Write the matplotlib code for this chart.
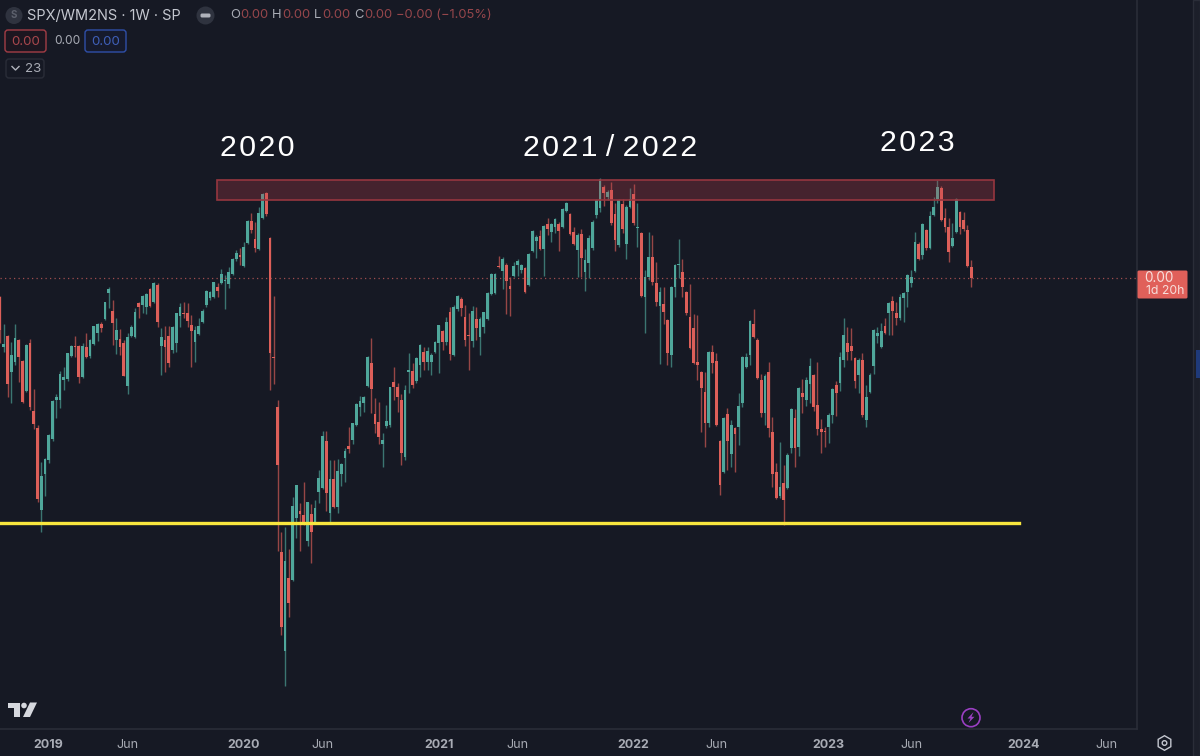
import matplotlib
matplotlib.use('Agg')
import matplotlib.pyplot as plt
from matplotlib.patches import Circle, FancyBboxPatch, Polygon, Rectangle, RegularPolygon
import numpy as np
import pandas as pd

plt.rcParams['font.family'] = ['Inter', 'DejaVu Sans']

BG = '#161924'
LINE = '#2a2d38'
UP = '#4fa79b'
DOWN = '#dd5f59'
TXT = '#c4c7cf'
DIM_RED = '#95464b'

first_week = '2018-10-08'

# weekly candles, price scale is hidden on the chart so levels are relative
opens = [432, 382, 393, 357, 367, 389, 368, 338, 386, 318,
         301, 219, 255, 269, 290, 329, 329, 349, 350, 373,
         383, 383, 352, 382, 373, 385, 396, 405, 410, 436,
         418, 389, 390, 386, 343, 393, 392, 426, 424, 422,
         440, 427, 444, 383, 389, 393, 379, 386, 413, 416,
         416, 404, 387, 395, 407, 424, 431, 432, 442, 446,
         448, 445, 455, 470, 474, 463, 486, 508, 490, 480,
         511, 536, 491, 372, 322, 177, 78, 151, 149, 211,
         218, 214, 188, 215, 207, 237, 241, 288, 216, 250,
         222, 255, 271, 283, 289, 304, 322, 326, 343, 366,
         315, 307, 285, 303, 304, 347, 342, 329, 272, 357,
         358, 348, 364, 377, 367, 367, 377, 386, 398, 387,
         417, 374, 420, 430, 412, 394, 388, 410, 392, 402,
         410, 435, 436, 463, 458, 464, 443, 453, 464, 459,
         461, 444, 478, 488, 493, 480, 505, 497, 502, 505,
         502, 518, 515, 497, 479, 495, 457, 466, 481, 514,
         521, 542, 532, 539, 515, 484, 525, 485, 522, 535,
         501, 496, 432, 452, 472, 446, 423, 425, 409, 374,
         442, 464, 457, 437, 412, 401, 367, 357, 337, 306,
         377, 368, 288, 257, 315, 275, 301, 302, 326, 362,
         374, 405, 389, 349, 316, 357, 297, 257, 233, 246,
         241, 281, 311, 282, 336, 329, 345, 354, 324, 300,
         298, 302, 314, 344, 346, 369, 386, 383, 371, 354,
         369, 309, 337, 363, 393, 382, 403, 416, 428, 416,
         411, 431, 437, 446, 458, 485, 474, 499, 481, 514,
         530, 541, 511, 502, 483, 497, 517, 509, 499, 462]
highs = [433, 405, 394, 387, 405, 390, 369, 385, 390, 340,
         304, 267, 271, 295, 329, 335, 358, 362, 376, 384,
         393, 384, 386, 396, 390, 403, 406, 407, 427, 442,
         429, 411, 400, 389, 396, 404, 421, 427, 434, 436,
         441, 447, 446, 401, 403, 403, 403, 416, 426, 427,
         426, 414, 403, 411, 420, 439, 438, 447, 446, 460,
         454, 462, 471, 479, 481, 487, 509, 516, 507, 522,
         536, 537, 492, 433, 329, 197, 202, 180, 232, 244,
         226, 247, 227, 225, 229, 259, 298, 298, 269, 269,
         270, 266, 281, 302, 306, 326, 333, 333, 373, 391,
         331, 327, 296, 324, 342, 362, 346, 335, 344, 376,
         366, 372, 385, 382, 382, 376, 388, 404, 399, 412,
         422, 424, 434, 432, 424, 416, 423, 422, 412, 417,
         437, 456, 456, 473, 472, 466, 452, 467, 470, 465,
         462, 476, 499, 494, 499, 504, 511, 506, 511, 507,
         521, 527, 516, 502, 496, 500, 480, 494, 509, 530,
         551, 544, 539, 547, 526, 530, 530, 524, 541, 545,
         526, 497, 459, 497, 494, 467, 442, 442, 410, 443,
         465, 490, 470, 438, 445, 415, 414, 358, 357, 378,
         384, 376, 289, 312, 321, 309, 302, 336, 373, 376,
         409, 420, 391, 355, 355, 367, 312, 266, 287, 264,
         276, 321, 320, 342, 350, 352, 371, 355, 367, 310,
         302, 316, 341, 348, 377, 411, 402, 401, 372, 371,
         376, 344, 356, 400, 402, 406, 411, 427, 433, 427,
         435, 437, 455, 459, 497, 487, 506, 500, 518, 532,
         549, 543, 521, 511, 506, 531, 518, 517, 504, 469]
lows = [386, 377, 332, 326, 364, 347, 326, 337, 319, 300,
        227, 197, 233, 266, 288, 311, 321, 339, 348, 372,
        372, 346, 351, 371, 371, 384, 388, 397, 409, 421,
        384, 375, 374, 353, 335, 392, 391, 411, 416, 415,
        422, 426, 402, 354, 357, 362, 376, 377, 402, 411,
        402, 362, 367, 394, 406, 422, 429, 431, 432, 445,
        420, 441, 454, 468, 464, 462, 485, 496, 477, 479,
        510, 513, 339, 345, 178, 94, 43, 112, 148, 191,
        178, 204, 183, 166, 206, 226, 240, 218, 207, 221,
        216, 243, 247, 276, 285, 303, 313, 317, 342, 316,
        296, 285, 262, 301, 302, 329, 317, 264, 269, 336,
        341, 346, 352, 359, 359, 354, 376, 356, 379, 384,
        369, 373, 418, 413, 383, 359, 382, 389, 374, 396,
        409, 434, 435, 461, 440, 415, 413, 452, 453, 456,
        436, 443, 477, 471, 479, 453, 494, 487, 496, 478,
        501, 517, 494, 484, 452, 452, 438, 451, 479, 511,
        517, 523, 529, 504, 478, 482, 496, 470, 521, 504,
        482, 432, 396, 449, 444, 423, 365, 405, 364, 362,
        432, 451, 432, 414, 380, 365, 349, 297, 282, 302,
        356, 303, 234, 256, 259, 262, 257, 284, 322, 361,
        364, 391, 350, 312, 304, 292, 242, 230, 231, 204,
        240, 276, 262, 273, 316, 323, 326, 318, 294, 276,
        282, 286, 306, 313, 338, 362, 369, 369, 341, 336,
        312, 302, 336, 355, 386, 381, 395, 394, 394, 404,
        409, 407, 422, 442, 457, 469, 470, 479, 480, 513,
        526, 508, 497, 467, 482, 496, 495, 498, 462, 442]
closes = [399, 385, 345, 374, 391, 372, 327, 384, 322, 305,
          230, 253, 270, 294, 328, 332, 355, 352, 376, 383,
          382, 352, 383, 372, 389, 403, 405, 401, 427, 440,
          406, 399, 382, 353, 392, 402, 417, 422, 433, 435,
          423, 446, 407, 392, 382, 366, 402, 416, 422, 415,
          408, 398, 399, 403, 418, 438, 437, 447, 438, 455,
          449, 457, 470, 476, 472, 482, 508, 499, 481, 516,
          535, 515, 376, 371, 264, 102, 168, 126, 223, 244,
          215, 205, 227, 197, 221, 251, 293, 236, 250, 222,
          258, 265, 278, 280, 306, 325, 328, 332, 372, 340,
          305, 292, 289, 308, 342, 342, 332, 276, 339, 359,
          344, 371, 384, 367, 378, 374, 387, 404, 387, 407,
          375, 422, 433, 421, 389, 393, 418, 401, 410, 417,
          436, 455, 455, 462, 470, 448, 440, 463, 468, 464,
          437, 475, 498, 492, 480, 503, 500, 505, 510, 498,
          520, 526, 495, 485, 494, 471, 469, 491, 507, 529,
          550, 536, 537, 506, 489, 529, 500, 522, 530, 506,
          502, 433, 452, 472, 447, 427, 437, 417, 376, 442,
          464, 465, 442, 416, 381, 366, 364, 341, 306, 377,
          366, 304, 244, 311, 288, 304, 295, 323, 372, 372,
          408, 392, 351, 316, 353, 301, 255, 231, 242, 229,
          274, 320, 281, 341, 332, 349, 363, 322, 300, 297,
          297, 314, 340, 336, 372, 394, 377, 378, 348, 369,
          314, 332, 354, 399, 396, 398, 396, 426, 418, 411,
          432, 436, 454, 452, 487, 470, 505, 481, 513, 522,
          542, 509, 502, 477, 491, 530, 502, 500, 463, 451]

tick_dates = ['2019-01-07', '2019-06-03', '2020-01-06', '2020-06-01',
              '2021-01-04', '2021-05-31', '2022-01-03', '2022-06-06',
              '2023-01-02', '2023-06-05', '2024-01-01', '2024-06-03']
tick_labels = ['2019', 'Jun', '2020', 'Jun', '2021', 'Jun',
               '2022', 'Jun', '2023', 'Jun', '2024', 'Jun']

zone_dates = ['2019-11-17', '2023-11-06']
zone_levels = [529.5, 549]
support_level = 206
support_end = '2023-12-23'

notes = ['2020', '2021 / 2022', '2023']
note_dates = ['2020-02-01', '2021-11-20', '2023-06-17']
note_levels = [581, 581, 586]

dates = pd.date_range(first_week, periods=len(opens), freq='7D')
opens, highs, lows, closes = map(np.array, (opens, highs, lows, closes))
up = closes >= opens
colors = np.where(up, UP, DOWN)

fig = plt.figure(figsize=(12, 7.56), dpi=100, facecolor=BG)
ax = fig.add_axes([0, 27 / 756, 1137 / 1200, 729 / 756], facecolor=BG)

# 3.75 px per weekly bar
px_day = 3.75 / 7
ax.set_xlim(dates[0], dates[0] + pd.Timedelta(days=1137 / px_day))
ax.set_ylim(0, 729)

ax.vlines(dates, lows, highs, colors=colors, lw=1.0, alpha=0.65, zorder=2)
ax.bar(dates, np.maximum(np.abs(closes - opens), 1), bottom=np.minimum(opens, closes),
       width=3.0 / px_day, color=colors, lw=0, zorder=3)

ax.axhline(closes[-1], color='#d0605e', lw=0.9, ls=(0, (1, 2.6)), alpha=0.75, zorder=4)

# resistance box and support line
x0, x1 = pd.Timestamp(zone_dates[0]), pd.Timestamp(zone_dates[1])
ax.add_patch(Rectangle((x0, zone_levels[0]), x1 - x0, zone_levels[1] - zone_levels[0],
                       facecolor='#c2404a', alpha=0.28, lw=0, zorder=5))
ax.add_patch(Rectangle((x0, zone_levels[0]), x1 - x0, zone_levels[1] - zone_levels[0],
                       fill=False, edgecolor='#96363f', lw=1.2, zorder=5))
ax.plot([dates[0] - pd.Timedelta(days=10), pd.Timestamp(support_end)],
        [support_level, support_level], color='#f8e63e', lw=2.4, zorder=6, clip_on=True)

# the notes on the picture are letter spaced
for txt, d, lvl in zip(notes, note_dates, note_levels):
    ax.text(pd.Timestamp(d), lvl, '\u200a'.join(txt).replace('\u200a \u200a', ' '), color='white',
            fontsize=21.8, ha='center', va='center', family=['Liberation Sans', 'DejaVu Sans'], zorder=7)

ax.set_xticks(pd.to_datetime(tick_dates))
ax.set_xticklabels(tick_labels)
ax.set_yticks([])
ax.tick_params(axis='x', length=0, pad=7, labelsize=9, labelcolor='#a9acb5')
for lab in ax.get_xticklabels():
    if lab.get_text() != 'Jun':
        lab.set_fontweight('bold')
for side in ('top', 'left'):
    ax.spines[side].set_visible(False)
for side in ('bottom', 'right'):
    ax.spines[side].set_color(LINE)
    ax.spines[side].set_linewidth(1.2)

# toolbar and legend chrome, in screen pixels
ui = fig.add_axes([0, 0, 1, 1])
ui.set_xlim(0, 1200)
ui.set_ylim(756, 0)
ui.axis('off')

ui.add_patch(Rectangle((1193, 0), 7, 756, facecolor='#1c1f2a', edgecolor=LINE, lw=1))
ui.add_patch(Rectangle((1196, 350), 4, 28, facecolor='#1f3a7a', lw=0))


def label(x, y, s, color=TXT, size=9.6, **kw):
    ui.text(x, y, s, color=color, fontsize=size, va='center', **kw)


def box(x, y, w, h, edge, face='none'):
    ui.add_patch(FancyBboxPatch((x + 2, y + 2), w - 4, h - 4, boxstyle='round,pad=2,rounding_size=3',
                                facecolor=face, edgecolor=edge, lw=1))


ui.add_patch(Circle((14, 15.5), 8.5, color='#2f333f', lw=0))
label(14, 15.5, 'S', color='#5d616d', size=7, ha='center', fontweight='bold')
label(27, 15.5, 'SPX/WM2NS · 1W · SP', size=10.45)
ui.add_patch(Circle((205.5, 15.5), 9, color='#2f333f', lw=0))
ui.add_patch(FancyBboxPatch((201, 14), 9, 3, boxstyle='round,pad=0.5,rounding_size=1.5',
                            facecolor='#b0b3bb', lw=0))

for x, s, col in [(230, 'O', '#a9acb5'), (240, '0.00', DIM_RED), (272, 'H', '#a9acb5'),
                  (282.5, '0.00', DIM_RED), (314, 'L', '#a9acb5'), (322, '0.00', DIM_RED),
                  (354, 'C', '#a9acb5'), (364, '0.00', DIM_RED),
                  (396, '\u22120.00 (\u22121.05%)', DIM_RED)]:
    label(x, 15.5, s, color=col, size=9.3)

box(5, 30, 41, 22, '#a33d46', '#1c1620')
label(25.5, 42, '0.00', color='#a8474d', ha='center')
label(54, 41.5, '0.00', color='#a9acb5', size=8.6)
box(85, 30, 41, 22, '#2f4fa8', '#161a2c')
label(105.5, 42, '0.00', color='#3f5fb8', ha='center')
box(6, 59, 38, 19, LINE)
ui.plot([12, 15.5, 19], [66.5, 70, 66.5], color='#b0b3bb', lw=1)
label(25, 69, '23', color='#a9acb5', size=9.6)

# last price tag
ui.add_patch(FancyBboxPatch((1138, 271), 49, 27, boxstyle='round,pad=0.5,rounding_size=1.5',
                            facecolor='#e0605a', lw=0))
label(1144.5, 278, '0.00', color='#f7dedb', size=9.8)
label(1146, 291, '1d 20h', color='#f7dedb', size=8.8)

# logo bottom left
logo = '#d6d8de'
ui.add_patch(Polygon([(8, 702.5), (20, 702.5), (20, 717), (14, 717), (14, 708), (8, 708)], color=logo, lw=0))
ui.add_patch(Circle((24, 705.5), 2.8, color=logo, lw=0))
ui.add_patch(Polygon([(30, 702.5), (37, 702.5), (30, 717), (23, 717)], color=logo, lw=0))

# lightning badge
ui.add_patch(Circle((971, 717.7), 9, fill=False, edgecolor='#9a3fc2', lw=1.2))
ui.add_patch(Polygon([(973.5, 712), (967.5, 718.5), (970.5, 718.5), (968.5, 723),
                      (974.5, 716.8), (971.5, 716.8)], color='#9a3fc2', lw=0))

# settings icon
ui.add_patch(RegularPolygon((1164.5, 743), 6, radius=7.3, fill=False, edgecolor='#c4c7cf', lw=1))
ui.add_patch(Circle((1164.5, 743), 2.3, fill=False, edgecolor='#c4c7cf', lw=1))

fig.savefig('out.png', dpi=100, facecolor=BG)
